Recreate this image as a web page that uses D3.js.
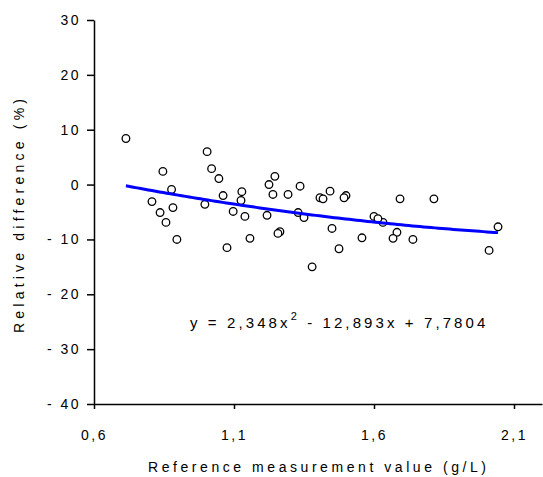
<!DOCTYPE html>
<html>
<head>
<meta charset="utf-8">
<script src="https://cdn.jsdelivr.net/npm/d3@7"></script>
<style>
  body { margin: 0; background: #fff; }
  text { font-family: "Liberation Sans", Arial, sans-serif; fill: #000; }
</style>
</head>
<body>
<div id="chart"></div>
<script>
// measured points (reference value g/L, relative difference %)
const refValues = [0.714, 0.846, 0.807, 0.836, 0.857, 0.877, 0.882, 0.896, 1.004, 1.020,
  1.046, 0.996, 1.061, 1.075, 1.097, 1.128, 1.139, 1.125, 1.157, 1.218,
  1.225, 1.246, 1.239, 1.293, 1.264, 1.257, 1.336, 1.329, 1.350, 1.379,
  1.407, 1.443, 1.418, 1.500, 1.493, 1.450, 1.475, 1.557, 1.600, 1.632,
  1.614, 1.682, 1.668, 1.693, 1.739, 1.814, 2.043, 2.011];
const relDiffs = [8.4, 2.4, -3.1, -5.1, -6.9, -0.9, -4.2, -10.0, 6.0, 2.9,
  1.1, -3.6, -2.0, -11.5, -4.9, -1.3, -5.8, -2.9, -9.8, -5.6,
  0.0, 1.5, -1.8, -1.8, -8.6, -8.9, -0.3, -5.1, -6.0, -15.0,
  -2.4, -1.2, -2.6, -2.0, -2.4, -8.0, -11.7, -9.7, -5.8, -6.9,
  -6.2, -8.7, -9.8, -2.6, -10.0, -2.6, -7.7, -12.0];

// polynomial trend reported on the chart
const trendCoef = [2.348, -12.893, 7.7804];

const xTicks = [0.6, 1.1, 1.6, 2.1];
const yTicks = [-40, -30, -20, -10, 0, 10, 20, 30];

const width = 543, height = 477;

const svg = d3.select("#chart")
  .append("svg")
    .attr("width", width)
    .attr("height", height);

const x = d3.scaleLinear().domain([0.6, 2.2]).range([94, 542]);
const y = d3.scaleLinear().domain([-40, 30]).range([404, 20]);

const comma = d => String(d).replace(".", ",");

// axes
const xAxis = svg.append("g")
  .attr("transform", "translate(0," + y(-40) + ")")
  .call(d3.axisBottom(x).tickValues(xTicks).tickFormat(comma).tickSize(5).tickPadding(21).tickSizeOuter(0));

const yAxis = svg.append("g")
  .attr("transform", "translate(" + x(0.6) + ",0)")
  .call(d3.axisLeft(y).tickValues(yTicks).tickFormat(d => d < 0 ? "- " + Math.abs(d) : d).tickSize(7).tickPadding(8).tickSizeOuter(0));

[xAxis, yAxis].forEach(a => {
  a.select(".domain").attr("stroke", "#000").attr("stroke-width", 1.5);
  a.selectAll(".tick line").attr("stroke", "#000").attr("stroke-width", 1.5);
  a.selectAll(".tick text")
    .style("font-size", "14px")
    .style("letter-spacing", "2.5px")
    .style("font-family", '"Liberation Sans", Arial, sans-serif')
    .attr("fill", "#000");
});
yAxis.selectAll(".tick text").attr("dx", 2);

// points
const points = refValues.map((v, i) => ({ x: v, y: relDiffs[i] }));
svg.append("g")
  .selectAll("circle")
  .data(points)
  .enter()
  .append("circle")
    .attr("cx", d => x(d.x))
    .attr("cy", d => y(d.y))
    .attr("r", 3.8)
    .attr("fill", "white")
    .attr("stroke", "#000")
    .attr("stroke-width", 1.3);

// trend curve
const xMin = d3.min(refValues), xMax = d3.max(refValues);
const trend = d3.range(0, 101).map(k => {
  const v = xMin + (xMax - xMin) * k / 100;
  return { x: v, y: trendCoef[0] * v * v + trendCoef[1] * v + trendCoef[2] };
});
svg.append("path")
  .datum(trend)
  .attr("fill", "none")
  .attr("stroke", "#0000ff")
  .attr("stroke-width", 3)
  .attr("d", d3.line().x(d => x(d.x)).y(d => y(d.y)));

// equation
const eq = svg.append("text")
  .attr("x", 190)
  .attr("y", 328)
  .style("font-size", "15px")
  .style("letter-spacing", "3.1px");
eq.append("tspan").text("y = 2,348x");
eq.append("tspan").attr("dy", -8).style("font-size", "11px").text("2");
eq.append("tspan").attr("dy", 8).text(" - 12,893x + 7,7804");

// axis titles
svg.append("text")
  .attr("x", 148)
  .attr("y", 472)
  .attr("textLength", 338)
  .attr("lengthAdjust", "spacing")
  .style("font-size", "14px")
  .text("Reference measurement value (g/L)");

svg.append("text")
  .attr("transform", "translate(24,333) rotate(-90)")
  .attr("textLength", 234)
  .attr("lengthAdjust", "spacing")
  .style("font-size", "14px")
  .text("Relative difference (%)");
</script>
</body>
</html>
